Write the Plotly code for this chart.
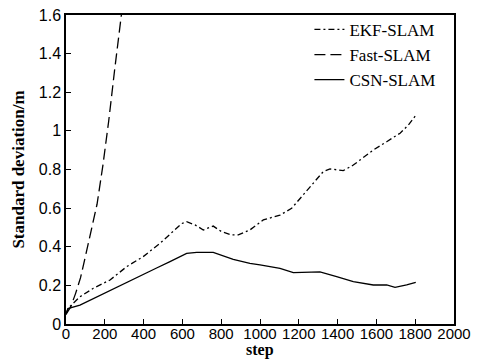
import plotly.graph_objects as go

ekf_x = [0, 10, 30, 72, 141, 227, 313, 398, 485, 562, 596, 622, 665, 708, 759, 802, 854, 888, 948,
         1017, 1103, 1163, 1223, 1292, 1326, 1361, 1429, 1481, 1584, 1653, 1722, 1765, 1808]
ekf_y = [0.05, 0.08, 0.10, 0.141, 0.185, 0.228, 0.297, 0.349, 0.418, 0.487, 0.52, 0.53, 0.513, 0.487,
         0.507, 0.478, 0.461, 0.461, 0.487, 0.539, 0.564, 0.599, 0.668, 0.746, 0.789, 0.803, 0.794,
         0.823, 0.901, 0.944, 0.988, 1.03, 1.087]

fast_x = [0, 25, 50, 75, 100, 130, 160, 190, 220, 250, 280, 300]
fast_y = [0.05, 0.09, 0.16, 0.24, 0.35, 0.48, 0.62, 0.82, 1.05, 1.31, 1.55, 1.72]

csn_x = [0, 10, 72, 175, 227, 347, 398, 467, 536, 588, 622, 674, 759, 862, 948, 1000, 1103, 1172,
         1275, 1309, 1395, 1481, 1584, 1653, 1696, 1756, 1803]
csn_y = [0.05, 0.08, 0.098, 0.147, 0.172, 0.23, 0.254, 0.29, 0.323, 0.35, 0.366, 0.371, 0.371, 0.335,
         0.314, 0.306, 0.288, 0.266, 0.271, 0.27, 0.245, 0.219, 0.202, 0.202, 0.19, 0.202, 0.216]

x_ticks = [0, 200, 400, 600, 800, 1000, 1200, 1400, 1600, 1800, 2000]
y_ticks = [0, 0.2, 0.4, 0.6, 0.8, 1, 1.2, 1.4, 1.6]

fig = go.Figure()
fig.add_trace(go.Scatter(x=ekf_x, y=ekf_y, mode="lines", name="EKF-SLAM",
                         line=dict(color="black", width=1.3, dash="6px,3px,2px,3px")))
fig.add_trace(go.Scatter(x=fast_x, y=fast_y, mode="lines", name="Fast-SLAM",
                         line=dict(color="black", width=1.3, dash="11px,5px")))
fig.add_trace(go.Scatter(x=csn_x, y=csn_y, mode="lines", name="CSN-SLAM",
                         line=dict(color="black", width=1.3)))

axis_common = dict(showline=True, linecolor="black", linewidth=1.5, mirror=True, automargin=False,
                   ticks="inside", ticklen=5, tickcolor="black", showgrid=False, zeroline=False)

title_font = dict(family="Liberation Serif, Times New Roman", size=17, color="black", weight="bold")

fig.update_xaxes(range=[0, 2000], tickvals=x_ticks, ticktext=[str(v) for v in x_ticks],
                 ticklabelstandoff=-5,
                 tickfont=dict(family="Liberation Sans, Arial", size=15, color="black"),
                 **axis_common)
fig.update_yaxes(range=[0, 1.6], tickvals=y_ticks, ticktext=[("%g" % v) for v in y_ticks],
                 tickfont=dict(family="Liberation Sans, Arial", size=16, color="black"),
                 title=dict(text="Standard deviation/m", standoff=10, font=title_font),
                 **axis_common)

fig.add_annotation(text="step", xref="paper", yref="paper", x=0.5, y=-0.084,
                   xanchor="center", yanchor="middle", showarrow=False,
                   font=dict(family="Liberation Serif, Times New Roman", size=16, color="black",
                             weight="bold"))

fig.update_layout(
    width=487, height=360,
    margin=dict(l=66, r=33, t=15, b=36),
    plot_bgcolor="white", paper_bgcolor="white",
    legend=dict(x=0.965, y=1.01, xanchor="right", yanchor="top",
                bgcolor="rgba(0,0,0,0)", tracegroupgap=0,
                font=dict(family="Liberation Serif, Times New Roman", size=17, color="black")),
)

fig.write_html("out.html")
